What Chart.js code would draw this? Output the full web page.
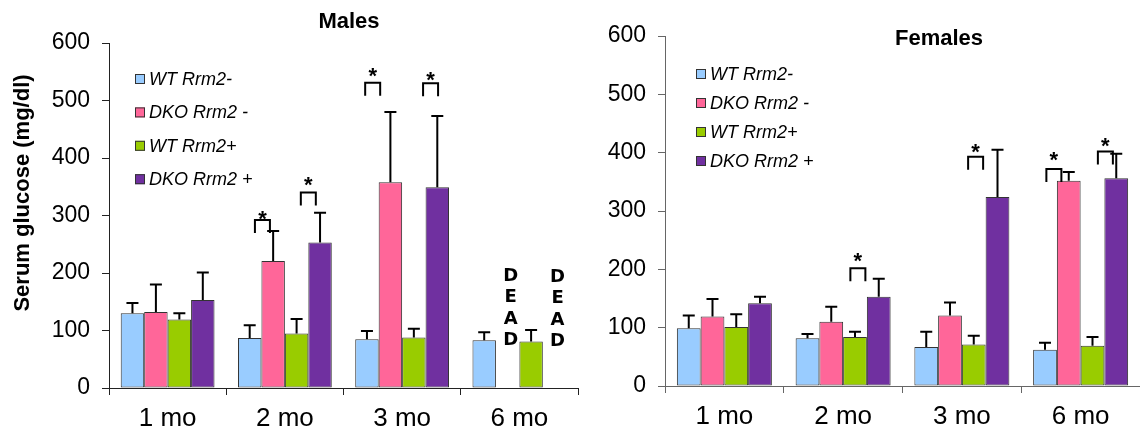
<!DOCTYPE html>
<html>
<head>
<meta charset="utf-8">
<script src="https://cdn.jsdelivr.net/npm/chart.js@4.4.1/dist/chart.umd.min.js"></script>
<style>
  body { margin: 0; background: #fff; }
  canvas { position: absolute; top: 0; }
  #males { left: 0; }
  #females { left: 585px; }
</style>
</head>
<body>
<canvas id="males" width="585" height="435"></canvas>
<canvas id="females" width="555" height="435"></canvas>
<script>
const categories = ["1 mo", "2 mo", "3 mo", "6 mo"];
const seriesLabels = ["WT Rrm2-", "DKO Rrm2 -", "WT Rrm2+", "DKO Rrm2 +"];
const seriesColors = ["#99CCFF", "#FF6699", "#99CC00", "#7030A0"];
const yTicks = [0, 100, 200, 300, 400, 500, 600];

// Males: means and upper error (SD)
const malesWTMinus = [130, 87, 85, 83];
const malesDKOMinus = [132, 221, 358, null];
const malesWTPlus = [119, 95, 88, 81];
const malesDKOPlus = [153, 253, 349, null];
const malesWTMinusErr = [18, 22, 14, 14];
const malesDKOMinusErr = [48, 52, 122, null];
const malesWTPlusErr = [11, 25, 15, 20];
const malesDKOPlusErr = [48, 52, 124, null];

// Females
const femalesWTMinus = [99, 82, 67, 62];
const femalesDKOMinus = [119, 110, 121, 352];
const femalesWTPlus = [101, 84, 71, 69];
const femalesDKOPlus = [142, 153, 324, 356];
const femalesWTMinusErr = [22, 7, 26, 12];
const femalesDKOMinusErr = [30, 26, 22, 15];
const femalesWTPlusErr = [22, 9, 15, 15];
const femalesDKOPlusErr = [11, 31, 81, 42];

const FONT = "'Liberation Sans', Arial, sans-serif";

// error bars, brackets, stars, legend and texts
const decorPlugin = {
    id: "decor",
    afterDatasetsDraw(chart, args, opts) {
        const ctx = chart.ctx;
        const yScale = chart.scales.y;
        ctx.save();

        ctx.strokeStyle = "#000";
        ctx.lineWidth = 2;
        chart.data.datasets.forEach((ds, i) => {
            const meta = chart.getDatasetMeta(i);
            meta.data.forEach((bar, j) => {
                if (ds.data[j] == null) return;
                const top = yScale.getPixelForValue(ds.data[j] + ds.errors[j]);
                ctx.beginPath();
                ctx.moveTo(bar.x, bar.y);
                ctx.lineTo(bar.x, top);
                ctx.moveTo(bar.x - 6, top);
                ctx.lineTo(bar.x + 6, top);
                ctx.stroke();
            });
        });

        ctx.fillStyle = "#000";
        ctx.textAlign = "center";
        for (const b of opts.brackets) {
            const x1 = chart.getDatasetMeta(b.left).data[b.cat].x;
            const x2 = chart.getDatasetMeta(b.left + 1).data[b.cat].x;
            const cx = (x1 + x2) / 2 + b.dx;
            const top = yScale.getPixelForValue(b.y);
            ctx.beginPath();
            ctx.moveTo(cx - 7.5, top + 13);
            ctx.lineTo(cx - 7.5, top);
            ctx.lineTo(cx + 7.5, top);
            ctx.lineTo(cx + 7.5, top + 13);
            ctx.stroke();
            ctx.font = "bold 22px " + FONT;
            ctx.textBaseline = "alphabetic";
            ctx.fillText("*", cx, yScale.getPixelForValue(b.star));
        }

        ctx.font = "bold 18px 'DejaVu Sans', sans-serif";
        ctx.textBaseline = "middle";
        for (const d of opts.dead) {
            const x = chart.getDatasetMeta(d.dataset).data[d.cat].x + 3;
            const y0 = yScale.getPixelForValue(d.y);
            "DEAD".split("").forEach((ch, k) => ctx.fillText(ch, x, y0 + k * 21.5));
        }

        // legend
        const lg = opts.legend;
        ctx.font = "italic 18px " + FONT;
        ctx.textAlign = "left";
        ctx.lineWidth = 1;
        ctx.strokeStyle = "#333";
        chart.data.datasets.forEach((ds, i) => {
            const y = lg.y + i * lg.step;
            ctx.fillStyle = ds.backgroundColor;
            ctx.fillRect(lg.x, y - 5, 10, 10);
            ctx.strokeRect(lg.x + 0.5, y - 4.5, 9, 9);
            ctx.fillStyle = "#000";
            ctx.fillText(ds.label, lg.x + 14, y + 1);
        });

        ctx.font = "bold 22px " + FONT;
        ctx.textAlign = "center";
        ctx.fillText(opts.title.text, opts.title.x, opts.title.y);

        if (opts.yTitle) {
            ctx.translate(opts.yTitle.x, opts.yTitle.y);
            ctx.rotate(-Math.PI / 2);
            ctx.fillText(opts.yTitle.text, 0, 0);
        }
        ctx.restore();
    }
};

function makeChart(id, values, errors, setup) {
    const datasets = seriesLabels.map((label, i) => ({
        label: label,
        data: values[i],
        errors: errors[i],
        backgroundColor: seriesColors[i],
        borderColor: "#333",
        borderWidth: 1,
        borderSkipped: false,
        categoryPercentage: 0.8,
        barPercentage: 1.0,
    }));

    return new Chart(document.getElementById(id), {
        type: "bar",
        data: { labels: categories, datasets: datasets },
        options: {
            responsive: false,
            animation: false,
            layout: { padding: setup.padding },
            plugins: {
                legend: { display: false },
                tooltip: { enabled: false },
                decor: setup.decor,
            },
            scales: {
                x: {
                    afterFit: (s) => { s.height = setup.xHeight; },
                    grid: { drawOnChartArea: false, tickLength: 7, color: setup.axisColor, offset: true },
                    border: { color: setup.axisColor },
                    ticks: { font: { family: FONT, size: 26 }, color: "#000", padding: 8 },
                },
                y: {
                    min: 0,
                    max: 600,
                    afterBuildTicks: (s) => { s.ticks = yTicks.map(v => ({ value: v })); },
                    afterFit: (s) => { s.width = setup.yWidth; },
                    grid: { drawOnChartArea: false, tickLength: 7, color: setup.axisColor },
                    border: { color: setup.axisColor },
                    ticks: { font: { family: FONT, size: 23 }, color: "#000", padding: 12 },
                },
            },
        },
        plugins: [decorPlugin],
    });
}

makeChart("males",
    [malesWTMinus, malesDKOMinus, malesWTPlus, malesDKOPlus],
    [malesWTMinusErr, malesDKOMinusErr, malesWTPlusErr, malesDKOPlusErr],
    {
        padding: { top: 43, right: 7, left: 0, bottom: 0 },
        xHeight: 47,
        yWidth: 109,
        axisColor: "#222",
        decor: {
            brackets: [
                { cat: 1, left: 0, y: 292, star: 282, dx: 1 },
                { cat: 1, left: 2, y: 340, star: 341, dx: 0 },
                { cat: 2, left: 0, y: 531, star: 530, dx: -6 },
                { cat: 2, left: 2, y: 530, star: 523, dx: 5 },
            ],
            dead: [
                { dataset: 1, cat: 3, y: 195 },
                { dataset: 3, cat: 3, y: 193 },
            ],
            legend: { x: 135, y: 79, step: 33.4 },
            title: { text: "Males", x: 349, y: 22 },
            yTitle: { text: "Serum glucose (mg/dl)", x: 23, y: 193 },
        },
    });

makeChart("females",
    [femalesWTMinus, femalesDKOMinus, femalesWTPlus, femalesDKOPlus],
    [femalesWTMinusErr, femalesDKOMinusErr, femalesWTPlusErr, femalesDKOPlusErr],
    {
        padding: { top: 36, right: 0, left: 0, bottom: 0 },
        xHeight: 49,
        yWidth: 80,
        axisColor: "#666",
        decor: {
            brackets: [
                { cat: 1, left: 2, y: 202, star: 203, dx: -9 },
                { cat: 2, left: 2, y: 393, star: 389, dx: -10 },
                { cat: 3, left: 0, y: 372, star: 375, dx: -3 },
                { cat: 3, left: 2, y: 402, star: 400, dx: 1 },
            ],
            dead: [],
            legend: { x: 111, y: 74, step: 29 },
            title: { text: "Females", x: 354, y: 39 },
        },
    });
</script>
</body>
</html>
